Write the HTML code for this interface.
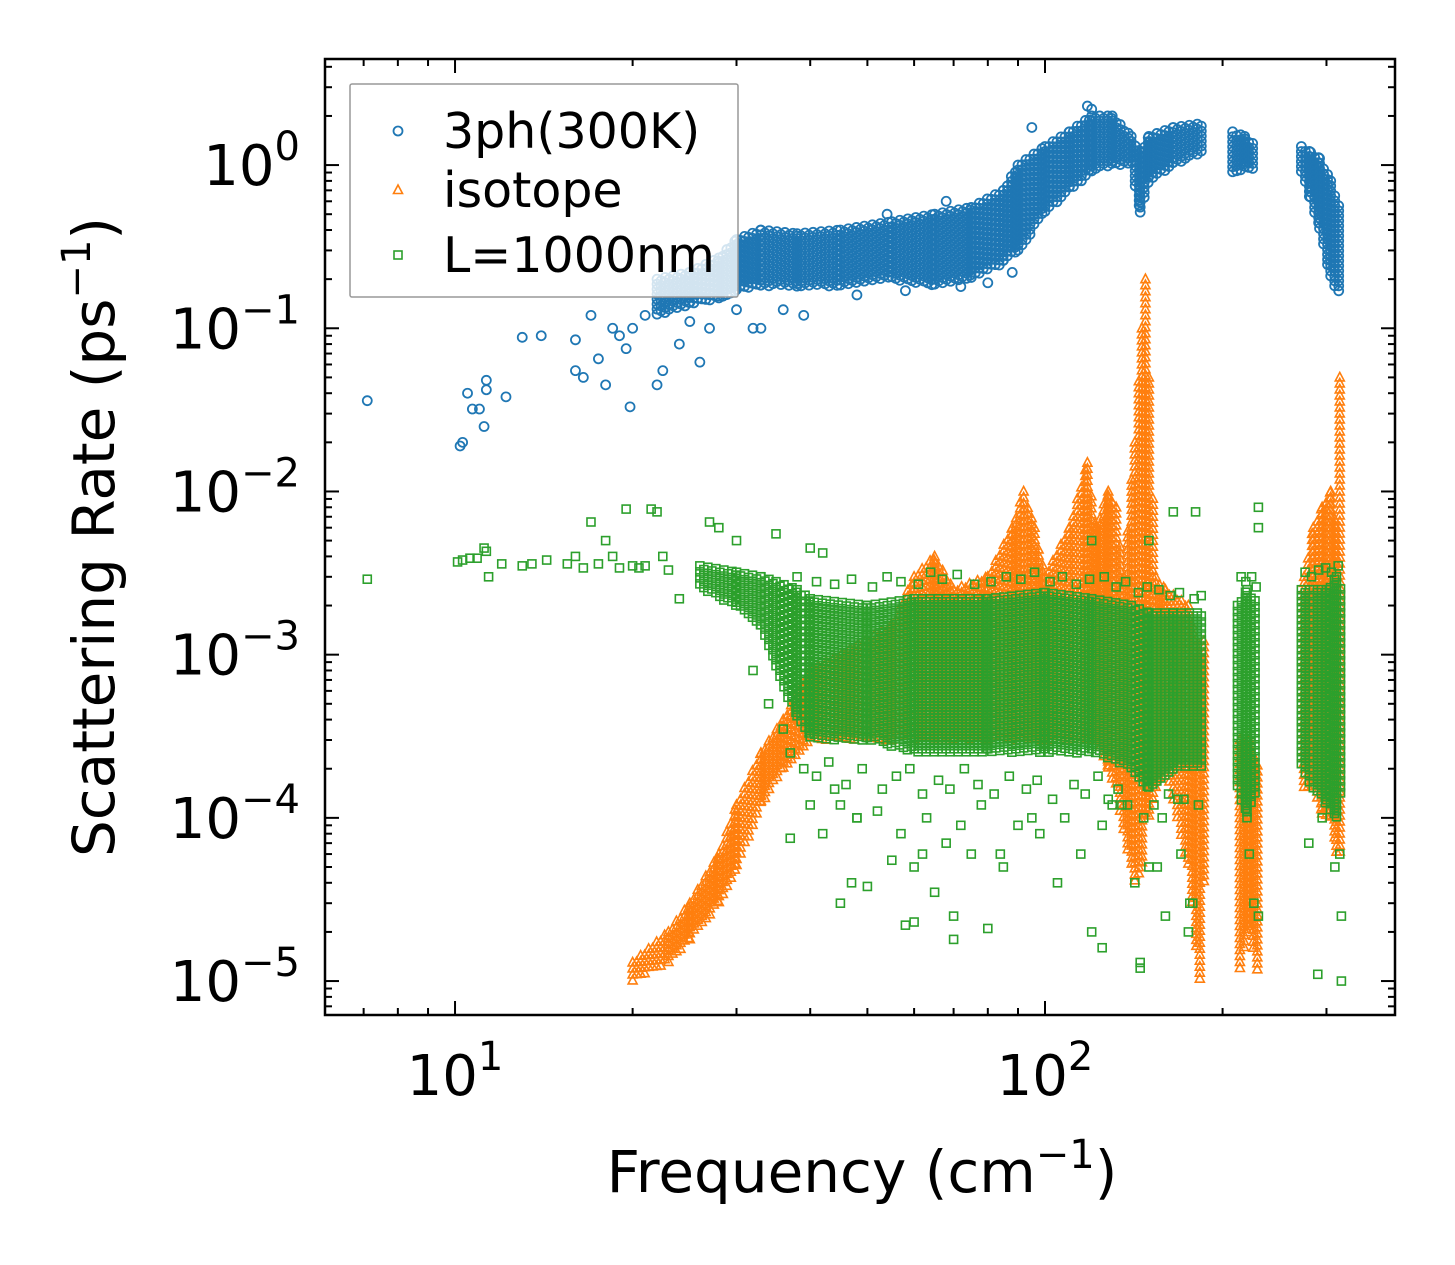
<!DOCTYPE html>
<html><head><meta charset="utf-8"><style>
html,body{margin:0;padding:0;background:#fff;}
svg{display:block;font-family:"DejaVu Sans","Liberation Sans",sans-serif;}
</style></head><body>
<svg id="chart" width="1455" height="1265" viewBox="0 0 1455 1265" xmlns="http://www.w3.org/2000/svg">
<rect width="1455" height="1265" fill="#fff"/>
<g id="marks"></g>
<g id="axes"></g>
</svg>
<script>
// ---- data ----
const xTickValues = [10, 100];
const xTickLabels = ["10", "10"];
const xTickExps = ["1", "2"];
const yTickValues = [1, 0.1, 0.01, 0.001, 0.0001, 0.00001];
const yTickExps = ["0", "\u22121", "\u22122", "\u22123", "\u22124", "\u22125"];
const seriesNames = ["3ph(300K)", "isotope", "L=1000nm"];

const blueBandF  = [22,25,28,30,33,38,45,55,65,75,85,90,100,110,120,130,140,145,150,165,185, 208,218,228, 272,282,292,305,318];
const blueBandLo = [0.12,0.14,0.15,0.17,0.18,0.18,0.18,0.2,0.18,0.2,0.25,0.3,0.5,0.7,0.9,1.0,1.0,0.5,0.8,1.0,1.2, 0.9,0.95,0.9, 0.9,0.6,0.4,0.2,0.15];
const blueBandHi = [0.2,0.22,0.27,0.35,0.4,0.38,0.4,0.45,0.5,0.55,0.7,1.0,1.3,1.6,2.0,2.0,1.5,1.2,1.5,1.7,1.8, 1.6,1.5,1.3, 1.3,1.2,1.1,0.8,0.5];
const blueBandSeg= [0,0,0,0,0,0,0,0,0,0,0,0,0,0,0,0,0,0,0,0,0, 1,1,1, 2,2,2,2,2];
const blueF = [7.1,10.2,10.3,10.5,10.7,11,11.2,11.3,11.3,12.2,13,14,16,16,16.5,17,17.5,18,18.5,19,19.5,19.8,20,21,22,22.5,23,24,25,26,27,30,32,33,36,39,54,68,95,118,120,48,58,72,80,88];
const blueR = [0.036,0.019,0.02,0.04,0.032,0.032,0.025,0.048,0.042,0.038,0.088,0.09,0.085,0.055,0.05,0.12,0.065,0.045,0.1,0.09,0.075,0.033,0.1,0.12,0.045,0.055,0.14,0.08,0.11,0.062,0.1,0.13,0.1,0.1,0.13,0.12,0.5,0.6,1.7,2.3,2.2,0.16,0.17,0.18,0.19,0.22];

const orangeBandF  = [20,23,25,28,30,33,36,40,55,60,65,70,80,88,92,96,100,110,118,122,128,132,136,142,146,148,150,154,160,175,183,188, 214,222,230, 275,285,295,305,312,316,319];
const orangeBandLo = [1.0e-5,1.3e-5,1.8e-5,3e-5,5e-5,1.2e-4,2e-4,3e-4,3e-4,3e-4,3e-4,3e-4,3e-4,3e-4,3e-4,3e-4,3e-4,3e-4,3e-4,3e-4,2e-4,1.5e-4,8e-5,4e-5,5e-5,1e-4,1e-4,1.5e-4,2e-4,5e-5,1e-5,1e-4, 1.2e-5,2e-5,1e-5, 1.5e-4,1.5e-4,1e-4,1e-4,6e-5,6e-5,1e-4];
const orangeBandHi = [1.3e-5,2e-5,3e-5,6e-5,1.2e-4,2.5e-4,4e-4,8e-4,1.5e-3,3e-3,4e-3,2.5e-3,3e-3,6e-3,1e-2,6e-3,3e-3,6e-3,1.5e-2,6e-3,1e-2,8e-3,3e-3,2e-2,0.1,0.2,0.05,3e-3,2.5e-3,2e-3,1e-3,1.5e-3, 3e-4,3e-4,2e-4, 3e-3,6e-3,8e-3,1e-2,6e-3,0.05,1e-2];
const orangeBandSeg= [0,0,0,0,0,0,0,0,0,0,0,0,0,0,0,0,0,0,0,0,0,0,0,0,0,0,0,0,0,0,0,0, 1,1,1, 2,2,2,2,2,2,2];

const greenBandF  = [26,30,33,35,38,40,50,60,80,100,120,140,150,165,185, 212,220,230, 272,285,300,312,319];
const greenBandLo = [2.5e-3,2e-3,1.5e-3,8e-4,4e-4,3e-4,3e-4,2.5e-4,2.5e-4,2.5e-4,2.5e-4,2e-4,1.5e-4,2e-4,2e-4, 1.5e-4,1e-4,1.5e-4, 2e-4,1.5e-4,1.2e-4,1e-4,1.5e-4];
const greenBandHi = [3.5e-3,3.2e-3,3e-3,2.8e-3,2.5e-3,2.2e-3,2e-3,2.2e-3,2.2e-3,2.4e-3,2.2e-3,2e-3,1.8e-3,1.8e-3,1.8e-3, 2e-3,2.5e-3,2e-3, 2.5e-3,2.5e-3,2.5e-3,3e-3,2.5e-3];
const greenBandSeg= [0,0,0,0,0,0,0,0,0,0,0,0,0,0,0, 1,1,1, 2,2,2,2,2];
const greenF = [7.1,10.1,10.3,10.6,10.9,11.2,11.3,11.4,12,13,13.5,14.3,15.5,16,16.5,17,17.5,18,18.5,19,19.5,20,20.5,21,21.5,22,22.5,23,24,27,28,30,35,40,42,
  37,42,45,47,50,58,60,65,70,70,80,120,125,145,145,160,175,230,290,318,318,
  165,180,230,230,120,150,60,62,45,48,55,75,85,95,105,130,155,170,178,
  40,44,48,52,57,63,68,72,78,84,90,98,108,115,125,135,142,150,158,168,176,182,222,226,280,295,310,316,
  32,34,36,37,39,41,43,46,49,53,56,59,62,66,69,73,77,82,87,93,97,103,112,117,123,128,133,138,147,153,162,172,
  38,41,44,47,51,54,57,61,64,67,71,76,81,86,91,96,102,107,113,119,126,132,137,144,149,156,163,169,179,184,
  215,219,224,228,276,283,291,299,306,314];
const greenR = [2.9e-3,3.7e-3,3.8e-3,3.9e-3,3.9e-3,4.5e-3,4.3e-3,3e-3,3.6e-3,3.5e-3,3.6e-3,3.8e-3,3.6e-3,4e-3,3.4e-3,6.5e-3,3.6e-3,5e-3,4e-3,3.4e-3,7.8e-3,3.5e-3,3.4e-3,3.5e-3,7.8e-3,7.5e-3,4e-3,3.3e-3,2.2e-3,6.5e-3,6e-3,5e-3,5.5e-3,4.5e-3,4.2e-3,
  7.5e-5,8e-5,3e-5,4e-5,3.8e-5,2.2e-5,2.3e-5,3.5e-5,1.8e-5,2.5e-5,2.1e-5,2e-5,1.6e-5,1.3e-5,1.2e-5,2.5e-5,2e-5,2.5e-5,1.1e-5,1e-5,2.5e-5,
  7.5e-3,7.5e-3,8e-3,6e-3,5e-3,5e-3,5e-5,6e-5,1.2e-4,1e-4,5.5e-5,6e-5,5e-5,1e-4,4e-5,1.2e-4,5e-5,6e-5,3e-5,
  1.2e-4,1.5e-4,1e-4,1.1e-4,8e-5,1e-4,7e-5,9e-5,1.2e-4,6e-5,9e-5,8e-5,1e-4,6e-5,9e-5,1.2e-4,4e-5,5e-5,1e-4,1.3e-4,3e-5,1.2e-4,6e-5,3e-5,7e-5,1e-4,5e-5,6e-5,
  8e-4,5e-4,3.5e-4,2.5e-4,2e-4,1.8e-4,2.2e-4,1.6e-4,2e-4,1.5e-4,1.8e-4,2e-4,1.4e-4,1.7e-4,1.5e-4,2e-4,1.6e-4,1.4e-4,1.8e-4,1.5e-4,1.7e-4,1.3e-4,1.6e-4,1.4e-4,1.8e-4,1.3e-4,1.5e-4,1.2e-4,1e-4,1.2e-4,1.4e-4,1.3e-4,
  3e-3,2.8e-3,2.7e-3,2.9e-3,2.6e-3,3e-3,2.8e-3,2.7e-3,3.2e-3,2.9e-3,3.1e-3,2.7e-3,2.8e-3,3e-3,2.9e-3,3.2e-3,2.8e-3,3e-3,2.7e-3,2.9e-3,3e-3,2.6e-3,2.8e-3,2.4e-3,2.6e-3,2.5e-3,2.3e-3,2.4e-3,2.2e-3,2.3e-3,
  3e-3,2.8e-3,3e-3,2.6e-3,3.2e-3,3e-3,3.3e-3,3.4e-3,3.2e-3,3.5e-3];

// ---- axes ----
const X0=325, X1=1395, Y0=59, Y1=1015;
const xMin=Math.log10(6.02), xMax=Math.log10(392);
const yMin=-5.208, yMax=0.65;
function xs(v){return X0+(Math.log10(v)-xMin)/(xMax-xMin)*(X1-X0);}
function ys(v){return Y1-(Math.log10(v)-yMin)/(yMax-yMin)*(Y1-Y0);}

const NS="http://www.w3.org/2000/svg";
const marks=document.getElementById('marks');
const axes=document.getElementById('axes');
function mk(tag,attrs,parent){const e=document.createElementNS(NS,tag);for(const k in attrs)e.setAttribute(k,attrs[k]);parent.appendChild(e);return e;}
const colors=["#1f77b4","#ff7f0e","#2ca02c"];

function marker(kind,px,py,parent){
  let e;
  if(kind===0){e=mk('circle',{cx:px,cy:py,r:4.5,fill:'none',stroke:colors[0],'stroke-width':1.8},parent);
    }
  else if(kind===1){e=mk('polygon',{points:`${px},${py-5} ${px-4.5},${py+3.5} ${px+4.5},${py+3.5}`,fill:'none',stroke:colors[1],'stroke-width':1.6},parent);
    }
  else {e=mk('rect',{x:px-4,y:py-4,width:8,height:8,fill:'none',stroke:colors[2],'stroke-width':1.6},parent);
    }
  
  return e;
}
function band(kind,F,Lo,Hi,Seg,g,stepX,stepY){
  for(let i=0;i<F.length-1;i++){
    if(Seg[i]!==Seg[i+1])continue;
    const xa=xs(F[i]),xb=xs(F[i+1]);
    let col=0;
    for(let px=xa;px<xb;px+=stepX,col++){
      const t=(px-xa)/(xb-xa);
      const lo=Math.log10(Lo[i])+t*(Math.log10(Lo[i+1])-Math.log10(Lo[i]));
      const hi=Math.log10(Hi[i])+t*(Math.log10(Hi[i+1])-Math.log10(Hi[i]));
      const ya=ys(Math.pow(10,hi)),yb=ys(Math.pow(10,lo));
      for(let py=ya+(col%2)*stepY/2;py<=yb;py+=stepY) marker(kind,px,py,g);
    }
  }
}
function points(kind,F,R,g){for(let i=0;i<F.length;i++)marker(kind,xs(F[i]),ys(R[i]),g);}

const clip=mk('clipPath',{id:'pc'},document.getElementById('chart'));
mk('rect',{x:X0,y:Y0,width:X1-X0,height:Y1-Y0},clip);
marks.setAttribute('clip-path','url(#pc)');

const gB=mk('g',{},marks);


band(0,blueBandF,blueBandLo,blueBandHi,blueBandSeg,gB,4,5);
points(0,blueF,blueR,gB);
const gO=mk('g',{},marks);


band(1,orangeBandF,orangeBandLo,orangeBandHi,orangeBandSeg,gO,4,6);
const gG=mk('g',{},marks);


band(2,greenBandF,greenBandLo,greenBandHi,greenBandSeg,gG,4,6);
points(2,greenF,greenR,gG);

const fr=mk('rect',{x:X0,y:Y0,width:X1-X0,height:Y1-Y0,fill:'none',stroke:'#000','stroke-width':2.5},axes);



function tickX(v,len){
  const px=xs(v); if(px<X0||px>X1)return;
  const a=mk('line',{x1:px,x2:px,y1:Y1,y2:Y1-len,stroke:'#000','stroke-width':2},axes);
  
  
  const b=mk('line',{x1:px,x2:px,y1:Y0,y2:Y0+len,stroke:'#000','stroke-width':2},axes);
  
  
}
function tickY(v,len){
  const py=ys(v); if(py<Y0||py>Y1)return;
  const a=mk('line',{x1:X0,x2:X0+len,y1:py,y2:py,stroke:'#000','stroke-width':2},axes);
  
  
  const b=mk('line',{x1:X1,x2:X1-len,y1:py,y2:py,stroke:'#000','stroke-width':2},axes);
  
  
}
for(let d=1;d<=100;d*=10)for(let m=1;m<10;m++)tickX(m*d,m===1?14:7);
for(let e=-6;e<=0;e++)for(let m=1;m<10;m++)tickY(m*Math.pow(10,e),m===1?14:7);

function label(x,y,base,exp,anchor,name){
  const t=mk('text',{x:x,y:y,'font-size':56,'text-anchor':anchor,fill:'#000'},axes);
  
  
  const s1=mk('tspan',{},t); s1.textContent=base;
  const s2=mk('tspan',{'font-size':40,dy:-25},t); s2.textContent=exp;
}
xTickValues.forEach((v,i)=>label(xs(v),1095,xTickLabels[i],xTickExps[i],'middle','x-tick-label'));
yTickValues.forEach((v,i)=>label(300,ys(v)+20,"10",yTickExps[i],'end','y-tick-label'));

const xl=mk('text',{x:862,y:1192,'font-size':58,'text-anchor':'middle'},axes);


xl.innerHTML='Frequency (cm<tspan font-size="40" dy="-24">\u22121</tspan><tspan dy="24">)</tspan>';
const yl=mk('text',{x:0,y:0,'font-size':58,'text-anchor':'middle',transform:'translate(114,537) rotate(-90)'},axes);


yl.innerHTML='Scattering Rate (ps<tspan font-size="40" dy="-24">\u22121</tspan><tspan dy="24">)</tspan>';

const lg=mk('g',{},axes);


const lb=mk('rect',{x:350,y:84,width:388,height:213,fill:'#fff','fill-opacity':0.8,stroke:'#999','stroke-width':1.5,rx:2},lg);


const ly=[131,190,255];
seriesNames.forEach((n,i)=>{
  const e=mk('g',{},lg);
  
  
  marker(i,398,ly[i],e);
  const t=mk('text',{x:443,y:ly[i]+17,'font-size':49},e);
  
  
  t.textContent=n;
});
</script>
</body></html>
